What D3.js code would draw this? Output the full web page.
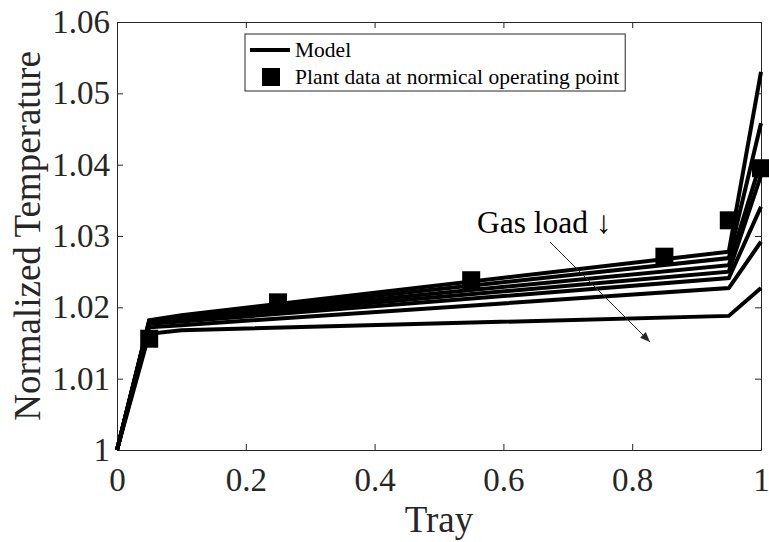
<!DOCTYPE html>
<html>
<head>
<meta charset="utf-8">
<script src="https://cdn.jsdelivr.net/npm/d3@7"></script>
<style>
  body { margin: 0; background: #fff; }
  text { font-family: "Liberation Serif", "Times New Roman", serif; }
</style>
</head>
<body>
<svg id="chart" width="769" height="542"></svg>
<script>
// data
const trayPoints = [0, 0.05, 0.1, 0.95, 1];
const modelCurves = [
  [1, 1.0182, 1.0189, 1.0278, 1.0530],
  [1, 1.0181, 1.0187, 1.0269, 1.0458],
  [1, 1.0180, 1.0185, 1.0259, 1.0405],
  [1, 1.0179, 1.0183, 1.0250, 1.0385],
  [1, 1.0177, 1.0180, 1.0241, 1.0341],
  [1, 1.0172, 1.0175, 1.0227, 1.0292],
  [1, 1.0163, 1.0168, 1.0188, 1.0227]
];
const plantTray = [0.05, 0.25, 0.55, 0.85, 0.95, 1];
const plantTemp = [1.0156, 1.0207, 1.0238, 1.0271, 1.0322, 1.0395];
const xTicks = [0, 0.2, 0.4, 0.6, 0.8, 1];
const yTicks = [1, 1.01, 1.02, 1.03, 1.04, 1.05, 1.06];
const legendLabels = ["Model", "Plant data at normical operating point"];

const axisColor = "#262626";
const svg = d3.select("#chart");

const x = d3.scaleLinear().domain([0, 1]).range([117, 761]);
const y = d3.scaleLinear().domain([1, 1.06]).range([450, 22]);
const fmt = v => String(+v.toFixed(2));

// axes (box on, ticks pointing in)
const gx = svg.append("g")
  .attr("transform", `translate(0,${y(1)})`)
  .call(d3.axisBottom(x).tickValues(xTicks).tickFormat(fmt)
    .tickSizeInner(-6).tickSizeOuter(0).tickPadding(18));
const gy = svg.append("g")
  .attr("transform", `translate(${x(0)},0)`)
  .call(d3.axisLeft(y).tickValues(yTicks).tickFormat(fmt)
    .tickSizeInner(-6).tickSizeOuter(0).tickPadding(7));
const gt = svg.append("g")
  .attr("transform", `translate(0,${y(1.06)})`)
  .call(d3.axisTop(x).tickValues(xTicks).tickFormat("")
    .tickSizeInner(-6).tickSizeOuter(0));
const gr = svg.append("g")
  .attr("transform", `translate(${x(1)},0)`)
  .call(d3.axisRight(y).tickValues(yTicks).tickFormat("")
    .tickSizeInner(-6).tickSizeOuter(0));

[gx, gy, gt, gr].forEach(g => {
  g.selectAll("path, line").attr("stroke", axisColor).attr("stroke-width", 1);
  g.selectAll("text")
    .attr("fill", axisColor)
    .style("font-family", '"Liberation Serif", "Times New Roman", serif')
    .style("font-size", "33px");
});

// axis labels
svg.append("text")
  .attr("x", (x(0) + x(1)) / 2)
  .attr("y", 532)
  .attr("text-anchor", "middle")
  .attr("fill", axisColor)
  .style("font-size", "37px")
  .text("Tray");

svg.append("text")
  .attr("transform", `translate(40,${(y(1) + y(1.06)) / 2}) rotate(-90)`)
  .attr("text-anchor", "middle")
  .attr("fill", axisColor)
  .style("font-size", "37px")
  .text("Normalized Temperature");

// model curves
const line = d3.line()
  .x((d, i) => x(trayPoints[i]))
  .y(d => y(d));

svg.append("g")
  .selectAll("path")
  .data(modelCurves)
  .enter()
  .append("path")
  .attr("d", line)
  .attr("fill", "none")
  .attr("stroke", "#000")
  .attr("stroke-width", 4)
  .attr("stroke-linejoin", "miter");

// plant data markers
const ms = 18;
svg.append("g")
  .selectAll("rect")
  .data(plantTray)
  .enter()
  .append("rect")
  .attr("x", d => x(d) - ms / 2)
  .attr("y", (d, i) => y(plantTemp[i]) - ms / 2)
  .attr("width", ms)
  .attr("height", ms)
  .attr("fill", "#000");

// annotation
svg.append("defs").append("marker")
  .attr("id", "head")
  .attr("viewBox", "0 0 10 10")
  .attr("refX", 10).attr("refY", 5)
  .attr("markerWidth", 10).attr("markerHeight", 10)
  .attr("markerUnits", "userSpaceOnUse")
  .attr("orient", "auto")
  .append("path")
  .attr("d", "M0,1 L10,5 L0,9 Z")
  .attr("fill", axisColor);

svg.append("line")
  .attr("x1", 550).attr("y1", 242)
  .attr("x2", 650).attr("y2", 342)
  .attr("stroke", axisColor)
  .attr("stroke-width", 1)
  .attr("marker-end", "url(#head)");

svg.append("text")
  .attr("x", 477)
  .attr("y", 233)
  .attr("fill", "#000")
  .style("font-size", "31.5px")
  .text("Gas load \u2193");

// legend
const legend = svg.append("g");
const legendBox = legend.append("rect")
  .attr("x", 245).attr("y", 34)
  .attr("height", 57)
  .attr("fill", "#fff")
  .attr("stroke", axisColor)
  .attr("stroke-width", 1);

legend.append("line")
  .attr("x1", 250).attr("x2", 290)
  .attr("y1", 50).attr("y2", 50)
  .attr("stroke", "#000")
  .attr("stroke-width", 4);

legend.append("rect")
  .attr("x", 271 - ms / 2).attr("y", 77 - ms / 2)
  .attr("width", ms).attr("height", ms)
  .attr("fill", "#000");

const legendText = legend.selectAll("text.lg")
  .data(legendLabels)
  .enter()
  .append("text")
  .attr("class", "lg")
  .attr("x", 295)
  .attr("y", (d, i) => 57 + i * 27)
  .attr("fill", "#000")
  .style("font-size", "21.5px")
  .text(d => d);

const maxW = d3.max(legendText.nodes(), n => n.getComputedTextLength());
legendBox.attr("width", 295 + maxW + 6 - 245);
</script>
</body>
</html>
